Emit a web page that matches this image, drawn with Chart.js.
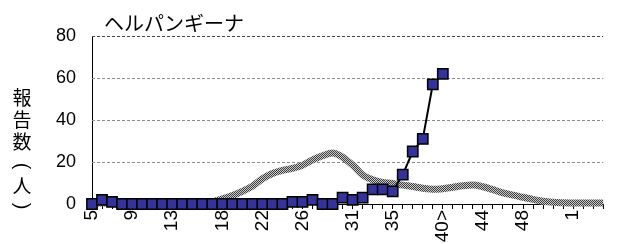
<!DOCTYPE html>
<html><head><meta charset="utf-8">
<script src="https://cdn.jsdelivr.net/npm/chart.js@4"></script>
<style>html,body{margin:0;padding:0;background:#fff;overflow:hidden}#wrap{width:627px;height:244px}</style>
</head><body><div id="wrap"><canvas id="c" width="627" height="244"></canvas></div>
<script>
const weeks = ['5','6','7','8','9','10','11','12','13','14','15','16','17','18','19','20','21','22','23','24','25','26','27','28','29','30','31','32','33','34','35','36','37','38','39','40','41','42','43','44','45','46','47','48','49','50','51','52','1','2','3','4'];
const tickLabels = ['5','','','','9','','','','13','','','','','18','','','','22','','','','26','','','','','31','','','','35','','','','','40>','','','','44','','','','48','','','','','1','','',''];
const currentYear = [0,2,1,0,0,0,0,0,0,0,0,0,0,0,0,0,0,0,0,0,1,1,2,0,0,3,2,3,7,7,6,14,25,31,57,62,null,null,null,null,null,null,null,null,null,null,null,null,null,null,null,null];
const pastAverage = [0.5,0.5,0.5,0.5,0.5,0.5,0.5,0.5,0.5,0.5,0.5,0.5,1,2.5,4,6,8.5,12,14.5,16,17,18.5,21,23,24.3,22.3,18.5,13.8,11.5,10.3,9.8,9,8.3,7.5,7,7.3,8,8.7,9,8.2,6.8,5.3,4.2,3.2,2.2,1.3,0.8,0.6,0.5,0.5,0.5,0.5];
const yTicks = [0,20,40,60,80];
const chartTitle = 'ヘルパンギーナ';
const yTitleChars = ['報','告','数','(','人',')'];

function makePattern(){
  const p = document.createElement('canvas');
  p.width = 2; p.height = 2;
  const g = p.getContext('2d');
  g.fillStyle = '#c8c8c8'; g.fillRect(0,0,2,2);
  g.fillStyle = '#404040'; g.fillRect(0,0,1,1); g.fillRect(1,1,1,1);
  return document.getElementById('c').getContext('2d').createPattern(p,'repeat');
}

const gridPlugin = {
  id: 'dashGrid',
  beforeDatasetsDraw(chart){
    const ctx = chart.ctx, y = chart.scales.y, a = chart.chartArea;
    ctx.save();
    ctx.lineWidth = 1;
    ctx.setLineDash([3,2]);
    yTicks.forEach(v => {
      if (v === 0) return;
      const py = Math.round(y.getPixelForValue(v)) + 0.5;
      ctx.strokeStyle = v === 80 ? '#444' : '#8a8a8a';
      ctx.beginPath(); ctx.moveTo(a.left, py); ctx.lineTo(a.right, py); ctx.stroke();
    });
    ctx.restore();
  }
};

const textPlugin = {
  id: 'texts',
  afterDraw(chart){
    const ctx = chart.ctx;
    ctx.save();
    ctx.fillStyle = '#000';
    ctx.font = '20px "Noto Sans CJK JP"';
    ctx.textAlign = 'left';
    ctx.textBaseline = 'middle';
    ctx.fillText(chartTitle, 104, 23);
    const ys = [98,120,142,166,186,206];
    ctx.textAlign = 'center';
    yTitleChars.forEach((ch,i)=>{
      if (ch === '(' || ch === ')') {
        ctx.save();
        ctx.translate(22, ys[i]);
        ctx.rotate(Math.PI / 2);
        ctx.font = '20px "Liberation Sans"';
        ctx.fillText(ch, 0, 0);
        ctx.restore();
      } else {
        ctx.font = '19px "Noto Sans CJK JP"';
        ctx.fillText(ch, 22, ys[i]);
      }
    });
    ctx.restore();
  }
};

new Chart(document.getElementById('c'), {
  type: 'line',
  data: {
    labels: weeks,
    datasets: [
      {
        label: 'current',
        data: currentYear,
        borderColor: '#000',
        borderWidth: 2,
        backgroundColor: '#333399',
        pointBackgroundColor: '#333399',
        pointBorderColor: '#000',
        pointBorderWidth: 1.5,
        pointStyle: 'rect',
        pointRadius: 7.3,
        tension: 0,
        clip: false,
        order: 1
      },
      {
        label: 'average',
        data: pastAverage,
        borderColor: makePattern(),
        borderWidth: 7,
        pointRadius: 0,
        tension: 0.4,
        cubicInterpolationMode: 'monotone',
        clip: false,
        order: 2
      }
    ]
  },
  options: {
    responsive: false,
    animation: false,
    devicePixelRatio: 1,
    layout: { padding: { top: 36, left: 0, right: 0, bottom: 0 } },
    plugins: { legend: { display: false }, tooltip: { enabled: false }, title: { display: false } },
    scales: {
      x: {
        type: 'category',
        offset: false,
        afterFit(s){ s.height = 40; },
        grid: { drawOnChartArea: false, drawTicks: true, tickLength: 5, tickColor: '#000', offset: false },
        border: { color: '#000', width: 1 },
        ticks: {
          autoSkip: false, maxRotation: 90, minRotation: 90, padding: 1,
          color: '#000', font: { family: '"Liberation Sans", Arial', size: 19 },
          callback: (v, i) => tickLabels[i]
        }
      },
      y: {
        min: 0, max: 80,
        afterFit(s){ s.width = 92; },
        afterBuildTicks(s){ s.ticks = yTicks.map(v => ({ value: v })); },
        grid: { drawTicks: false, drawOnChartArea: false },
        border: { color: '#000', width: 1 },
        ticks: {
          padding: 16, color: '#000',
          font: { family: '"Liberation Sans", Arial', size: 18 }
        }
      }
    }
  },
  plugins: [gridPlugin, textPlugin]
});
</script>
</body></html>
